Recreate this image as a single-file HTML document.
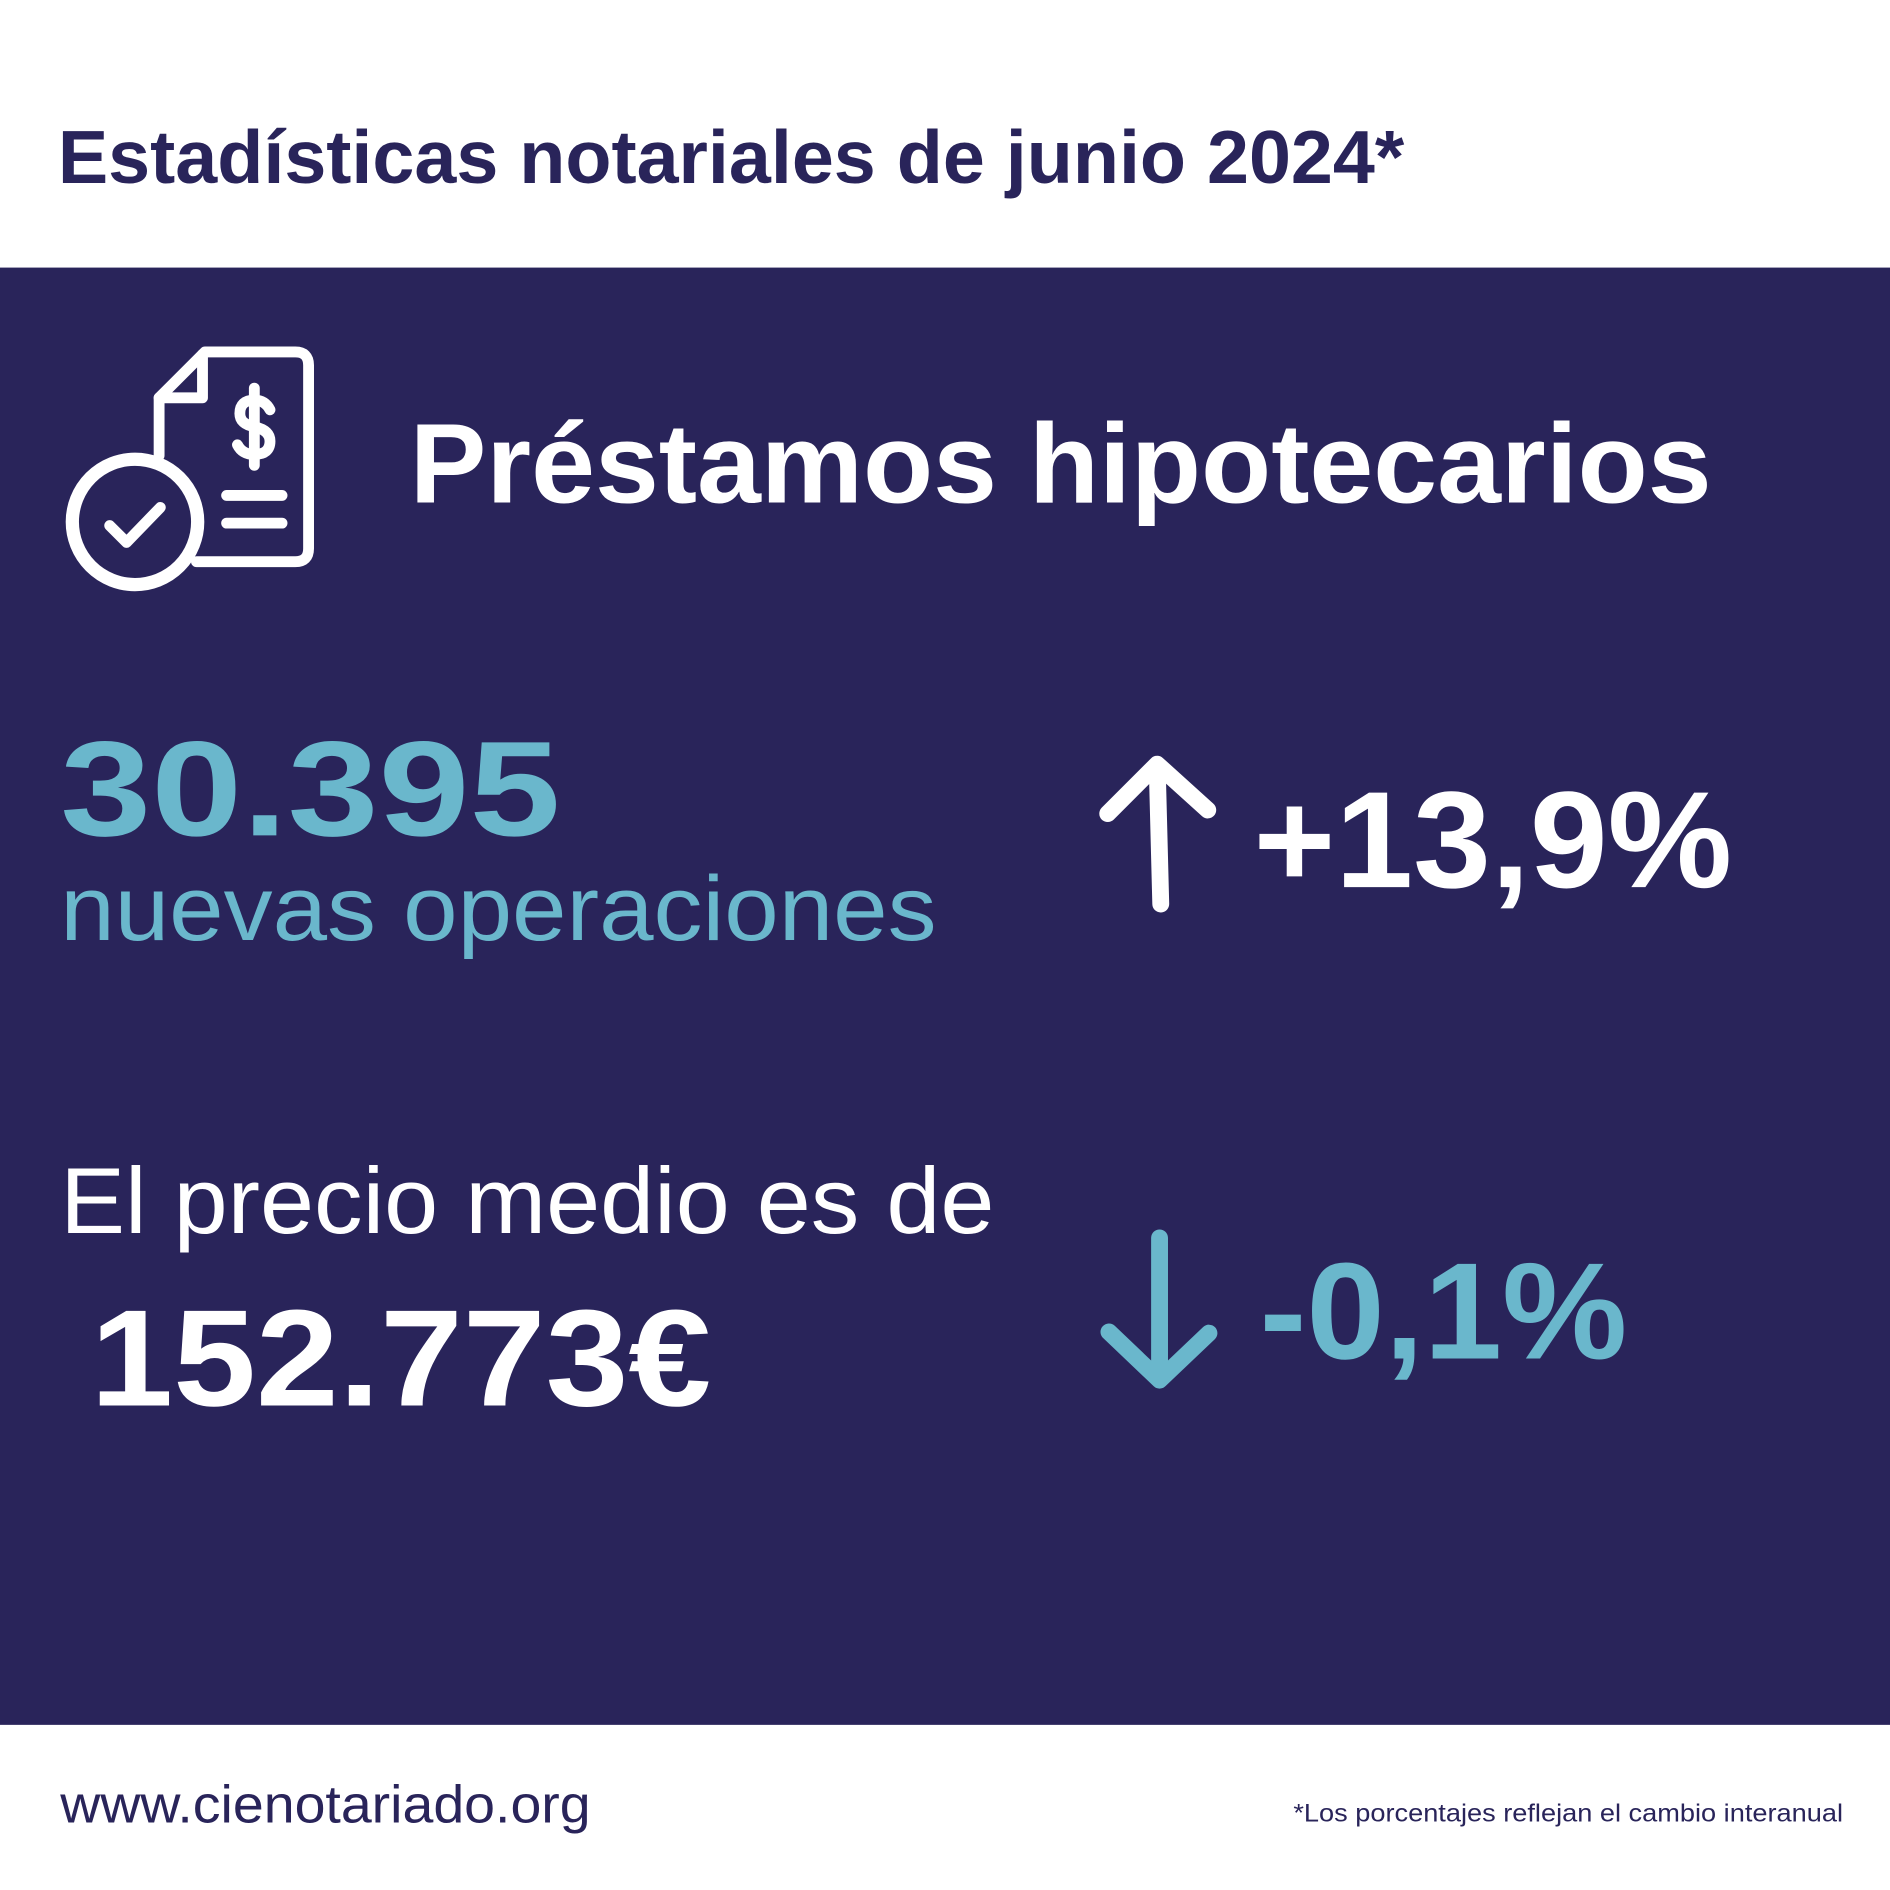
<!DOCTYPE html>
<html><head><meta charset="utf-8"><style>
html,body{margin:0;padding:0;background:#fff;}
svg{display:block;}
text{font-family:"Liberation Sans","DejaVu Sans",sans-serif;}
</style></head><body>
<svg width="1890" height="1890" viewBox="0 0 1568 1568" xmlns="http://www.w3.org/2000/svg">
<rect width="1568" height="1568" fill="#ffffff"/>
<text x="48" y="152" font-size="62" font-weight="900" fill="#29245a" textLength="1117" lengthAdjust="spacingAndGlyphs">Estadísticas notariales de junio 2024*</text>
<rect x="0" y="222" width="1568" height="1209" fill="#29245a"/>
<g fill="none" stroke="#ffffff" stroke-width="9" stroke-linecap="round" stroke-linejoin="round">
<path d="M132 378 V330 L170 292 H245 Q256 292 256 303 V455 Q256 466 245 466 H163"/>
<path d="M132 330 H168 V294"/>
<circle cx="112" cy="433" r="52" stroke-width="11"/>
<path d="M91 436 L105 450 L133 421"/>
<path d="M188 411 H234 M188 434 H234"/>
<path d="M211 322 V386"/>
<path d="M224 340 Q220 332 211 332 Q199 332 199 343 Q199 352 211 354 Q224 357 224 366 Q224 377 211 377 Q201 377 197 369"/>
</g>
<text x="340" y="417" font-size="94" font-weight="bold" fill="#ffffff" textLength="1080" lengthAdjust="spacingAndGlyphs">Préstamos hipotecarios</text>
<text x="50" y="693" font-size="112" font-weight="900" fill="#6ab7cc" textLength="415" lengthAdjust="spacingAndGlyphs">30.395</text>
<text x="50" y="780" font-size="76" fill="#6ab7cc" textLength="727" lengthAdjust="spacingAndGlyphs">nuevas operaciones</text>
<g fill="none" stroke="#ffffff" stroke-width="14" stroke-linecap="round" stroke-linejoin="round">
<path d="M963 750 L960 634 M919 675 L960 634 L1002 672"/>
</g>
<text x="1040" y="736" font-size="114" font-weight="900" fill="#ffffff" textLength="397" lengthAdjust="spacingAndGlyphs">+13,9%</text>
<text x="50" y="1023" font-size="78" fill="#ffffff" textLength="775" lengthAdjust="spacingAndGlyphs">El precio medio es de</text>
<text x="75" y="1166" font-size="114" font-weight="900" fill="#ffffff" textLength="515" lengthAdjust="spacingAndGlyphs">152.773€</text>
<g fill="none" stroke="#6ab7cc" stroke-width="14" stroke-linecap="round" stroke-linejoin="round">
<path d="M962 1027 L962 1143 M920 1105 L962 1145 L1003 1106"/>
</g>
<text x="1045" y="1127" font-size="114" font-weight="900" fill="#6ab7cc" textLength="305" lengthAdjust="spacingAndGlyphs">-0,1%</text>
<text x="50" y="1512" font-size="44" fill="#29245a" textLength="440" lengthAdjust="spacingAndGlyphs">www.cienotariado.org</text>
<text x="1073" y="1511" font-size="21" fill="#29245a" textLength="456" lengthAdjust="spacingAndGlyphs">*Los porcentajes reflejan el cambio interanual</text>
</svg>
</body></html>
